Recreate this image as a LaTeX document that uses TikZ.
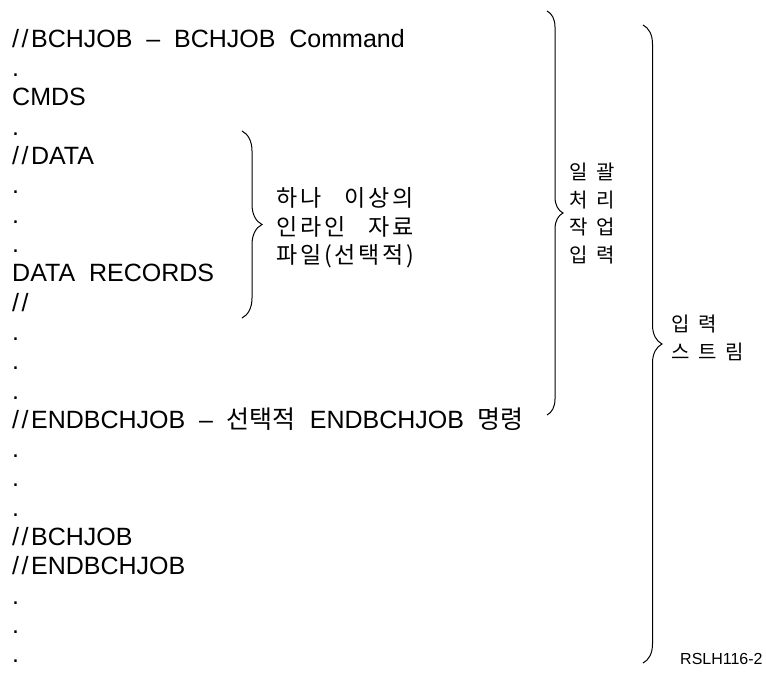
\documentclass[tikz,border=0pt]{standalone}
\usepackage{fontspec}
\setmainfont{Liberation Sans}[WordSpace=2]
\newfontfamily\kr{Noto Sans CJK KR}
\newfontfamily\krl{Noto Sans CJK KR}[LetterSpace=12,WordSpace=3]
\newfontfamily\krw{Noto Sans CJK KR}[LetterSpace=44]
\usetikzlibrary{decorations.pathreplacing}
\newcommand\dsl{/\kern2.5pt/\kern2.5pt}
\begin{document}
\begin{tikzpicture}[x=1pt,y=-1pt,
  txt/.style={anchor=base west, inner sep=0pt, font=\fontsize{25}{29}\selectfont},
  lab/.style={anchor=base west, inner sep=0pt, font=\krl\fontsize{23}{28}\selectfont},
  labw/.style={anchor=base west, inner sep=0pt, font=\krw\fontsize{20}{28}\selectfont},
  brc/.style={decorate, decoration={brace, amplitude=#1}, line width=1pt},
]
\fill[white] (0,0) rectangle (766,677);
\useasboundingbox (0,0) rectangle (766,677);

% main listing
\node[txt] (l1)  at (12,47.4)  {\dsl BCHJOB – BCHJOB Command};
\node[txt] (l2)  at (12,76.7)  {.};
\node[txt] (l3)  at (12,106.0) {CMDS};
\node[txt] (l4)  at (12,135.3) {.};
\node[txt] (l5)  at (12,164.6) {\dsl DATA};
\node[txt] (l6)  at (12,193.9) {.};
\node[txt] (l7)  at (12,223.2) {.};
\node[txt] (l8)  at (12,252.5) {.};
\node[txt] (l9)  at (12,281.8) {DATA RECORDS};
\node[txt] (l10) at (12,311.1) {\dsl};
\node[txt] (l11) at (12,340.4) {.};
\node[txt] (l12) at (12,369.7) {.};
\node[txt] (l13) at (12,399.0) {.};
\node[txt] (l14) at (12,428.3) {\dsl ENDBCHJOB – {\kr 선택적} ENDBCHJOB {\kr 명령}};
\node[txt] (l15) at (12,457.6) {.};
\node[txt] (l16) at (12,486.9) {.};
\node[txt] (l17) at (12,516.2) {.};
\node[txt] (l18) at (12,545.5) {\dsl BCHJOB};
\node[txt] (l19) at (12,574.8) {\dsl ENDBCHJOB};
\node[txt] (l20) at (12,604.1) {.};
\node[txt] (l21) at (12,633.4) {.};
\node[txt] (l22) at (12,662.7) {.};

% braces
\coordinate (b1t) at (242,131); \coordinate (b1b) at (242,318);
\coordinate (b2t) at (547,11);  \coordinate (b2b) at (547,415);
\coordinate (b3t) at (643,25);  \coordinate (b3b) at (643,663);
\draw[brc=20pt] (b1t) -- (b1b);
\draw[brc=16pt] (b2t) -- (b2b);
\draw[brc=19pt] (b3t) -- (b3b);

% brace labels
\node[lab] (k1) at (276,206) {하나 이상의};
\node[lab] (k2) at (276,235) {인라인 자료};
\node[lab] (k3) at (276,263) {파일(선택적)};

\node[labw] (j1) at (569,179) {일괄};
\node[labw] (j2) at (569,207) {처리};
\node[labw] (j3) at (569,234) {작업};
\node[labw] (j4) at (569,262) {입력};

\node[labw] (s1) at (671,331) {입력};
\node[labw] (s2) at (671,359) {스트림};

\node[anchor=base west, inner sep=0pt, font=\fontsize{16}{19}\selectfont] (id) at (680,664) {RSLH116-2};
\end{tikzpicture}
\end{document}
